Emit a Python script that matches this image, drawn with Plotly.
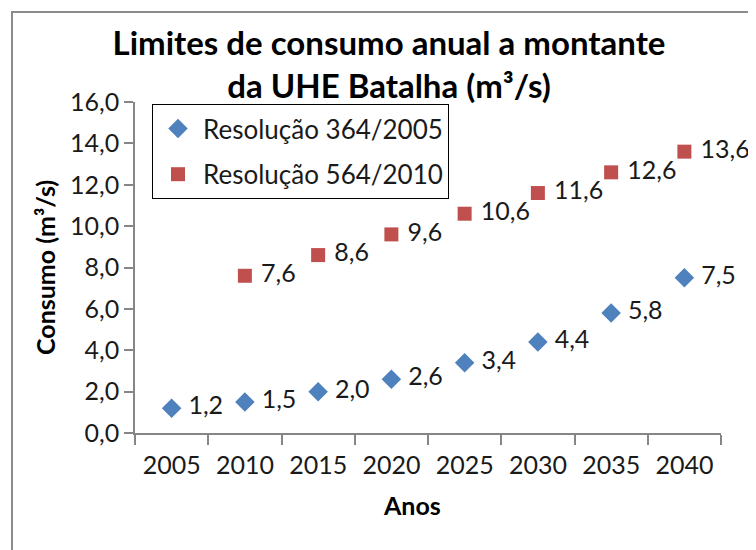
import plotly.graph_objects as go

anos = ["2005", "2010", "2015", "2020", "2025", "2030", "2035", "2040"]
res_364 = [1.2, 1.5, 2.0, 2.6, 3.4, 4.4, 5.8, 7.5]
anos_564 = ["2010", "2015", "2020", "2025", "2030", "2035", "2040"]
res_564 = [7.6, 8.6, 9.6, 10.6, 11.6, 12.6, 13.6]
y_ticks = [0, 2, 4, 6, 8, 10, 12, 14, 16]

# page body has an 8px margin; layout coordinates = reference pixels - 8
OFF = 8
W, H = 756 - OFF, 550 - OFF
L, R, T, B = 135 - OFF, 721 - OFF, 102 - OFF, 433 - OFF
pw, ph = R - L, B - T


def px(xr):
    return (xr - OFF - L) / pw


def py(yr):
    return (B - (yr - OFF)) / ph


FONT = "Lato"
TXT = "#1a1a1a"
FS = 25

fig = go.Figure()
fig.add_trace(go.Scatter(
    x=anos, y=res_364, mode="markers+text", name="Resolução 364/2005",
    legendgroup="a",
    marker=dict(symbol="diamond", size=15, color="#4F81BD"),
    text=["\u00a0" + f"{v:.1f}".replace(".", ",") for v in res_364],
    textposition="middle right",
    textfont=dict(family=FONT, size=FS, color=TXT),
    cliponaxis=False,
))
fig.add_trace(go.Scatter(
    x=anos_564, y=res_564, mode="markers+text", name="Resolução 564/2010",
    legendgroup="b",
    marker=dict(symbol="square", size=14, color="#C0504D"),
    text=["\u00a0" + f"{v:.1f}".replace(".", ",") for v in res_564],
    textposition="middle right",
    textfont=dict(family=FONT, size=FS, color=TXT),
    cliponaxis=False,
))

fig.update_layout(
    width=W, height=H,
    margin=dict(l=L, r=W - R, t=T, b=H - B, pad=0),
    paper_bgcolor="white", plot_bgcolor="white",
    separators=",.",
    font=dict(family=FONT, size=FS, color=TXT),
    title=dict(
        text="<b>Limites de consumo anual a montante<br>da UHE Batalha (m³/s)</b>",
        x=(389 - OFF) / W, xanchor="center", xref="container",
        y=1 - 47 / H, yanchor="top", yref="container",
        font=dict(family=FONT, size=33, color="#000000"),
    ),
    xaxis=dict(
        type="category", categoryorder="array", categoryarray=anos,
        range=[-0.5, 7.5], tickson="boundaries",
        ticks="outside", ticklen=10, tickcolor="#868686", tickwidth=1.5,
        showline=True, linecolor="#868686", linewidth=1.5,
        showgrid=False, zeroline=False,
        ticklabelstandoff=9,
        tickfont=dict(family=FONT, size=FS, color=TXT),
    ),
    yaxis=dict(
        range=[0, 16], tickvals=y_ticks, tickformat=".1f",
        ticks="outside", ticklen=9, tickcolor="#868686", tickwidth=1.5,
        showline=True, linecolor="#868686", linewidth=1.5,
        showgrid=False, zeroline=False,
        tickfont=dict(family=FONT, size=FS, color=TXT),
    ),
    showlegend=True,
    legend=dict(
        x=px(152), y=py(104), xanchor="left", yanchor="top",
        bordercolor="#000000", borderwidth=1, bgcolor="white",
        font=dict(family=FONT, size=26, color=TXT),
        traceorder="grouped", tracegroupgap=9,
        itemwidth=40,
    ),
    annotations=[
        dict(text="<b>Consumo (m³/s)</b>", textangle=-90,
             x=px(45), y=py(268), xref="paper", yref="paper",
             xanchor="center", yanchor="middle", showarrow=False,
             font=dict(family=FONT, size=25, color="#000000")),
        dict(text="<b>Anos</b>",
             x=px(412), y=py(505), xref="paper", yref="paper",
             xanchor="center", yanchor="middle", showarrow=False,
             font=dict(family=FONT, size=25, color="#000000")),
    ],
    shapes=[
        dict(type="rect", xref="paper", yref="paper", layer="below",
             x0=px(12), x1=px(800), y0=py(12), y1=py(620),
             line=dict(color="#8c8c8c", width=2),
             fillcolor="rgba(0,0,0,0)"),
    ],
)

fig.write_html("out.html")
